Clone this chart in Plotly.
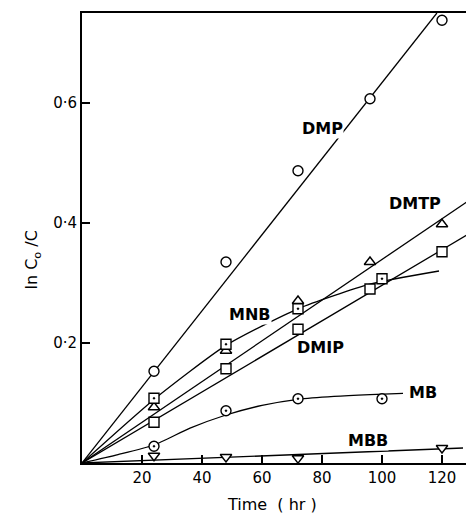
import plotly.graph_objects as go

# Measured points (time in hr, ln C0/C)
dmp_t = [24, 48, 72, 96, 120]
dmp_y = [0.153, 0.335, 0.487, 0.607, 0.738]

dmtp_t = [24, 48, 72, 96, 120]
dmtp_y = [0.093, 0.187, 0.270, 0.335, 0.398]

mnb_t = [24, 48, 72, 100]
mnb_y = [0.108, 0.198, 0.257, 0.307]

dmip_t = [24, 48, 72, 96, 120]
dmip_y = [0.068, 0.157, 0.223, 0.290, 0.352]

mb_t = [24, 48, 72, 100]
mb_y = [0.028, 0.087, 0.107, 0.107]

mbb_t = [24, 48, 72, 120]
mbb_y = [0.012, 0.010, 0.008, 0.025]

# Fitted curves
dmp_fit_t = [0, 118.3]
dmp_fit_y = [0, 0.75]
dmtp_fit_t = [0, 130]
dmtp_fit_y = [0, 0.441]
dmip_fit_t = [0, 130]
dmip_fit_y = [0, 0.385]
mnb_fit_t = [0, 24, 48, 72, 96, 119]
mnb_fit_y = [0, 0.106, 0.196, 0.257, 0.298, 0.320]
mb_fit_t = [0, 12, 24, 36, 48, 60, 72, 84, 96, 107]
mb_fit_y = [0, 0.014, 0.030, 0.058, 0.080, 0.096, 0.106, 0.111, 0.114, 0.116]
mbb_fit_t = [0, 127]
mbb_fit_y = [0, 0.025]

labels = ["DMP", "DMTP", "MNB", "DMIP", "MB", "MBB"]
label_t = [80, 111, 56, 79.5, 113.7, 95.3]
label_y = [0.558, 0.432, 0.248, 0.193, 0.117, 0.038]

y_ticks = [0.2, 0.4, 0.6]
y_ticktext = ["0·2", "0·4", "0·6"]
x_ticks = [20, 40, 60, 80, 100, 120]

fig = go.Figure()

for tx, ty, shape in [
    (dmp_fit_t, dmp_fit_y, "linear"),
    (dmtp_fit_t, dmtp_fit_y, "linear"),
    (dmip_fit_t, dmip_fit_y, "linear"),
    (mnb_fit_t, mnb_fit_y, "spline"),
    (mb_fit_t, mb_fit_y, "spline"),
    (mbb_fit_t, mbb_fit_y, "linear"),
]:
    fig.add_trace(go.Scatter(x=tx, y=ty, mode="lines",
                             line=dict(color="black", width=1.3, shape=shape, smoothing=0.6),
                             showlegend=False, hoverinfo="skip"))

mk = lambda sym: dict(symbol=sym, size=10, color="white", line=dict(color="black", width=1.4))
for tx, ty, sym in [
    (dmp_t, dmp_y, "circle"),
    (dmtp_t, dmtp_y, "triangle-up"),
    (mnb_t, mnb_y, "square-dot"),
    (dmip_t, dmip_y, "square"),
    (mb_t, mb_y, "circle-dot"),
    (mbb_t, mbb_y, "triangle-down"),
]:
    fig.add_trace(go.Scatter(x=tx, y=ty, mode="markers", marker=mk(sym), showlegend=False))

for lab, lx, ly in zip(labels, label_t, label_y):
    fig.add_annotation(x=lx, y=ly, text="<b>" + lab + "</b>", showarrow=False,
                       font=dict(family="DejaVu Sans", size=16, color="black"),
                       bgcolor="white", borderpad=0)

fig.add_annotation(xref="paper", yref="paper", x=-0.159, y=0.451, text="ln C<sub>o</sub> /C",
                   textangle=-90, showarrow=False,
                   font=dict(family="DejaVu Sans", size=16, color="black"))
fig.add_annotation(xref="paper", yref="paper", x=0.487, y=-0.093, text="Time  ( hr )",
                   showarrow=False, yanchor="middle",
                   font=dict(family="DejaVu Sans", size=16, color="black"))

axis_common = dict(ticks="inside", ticklen=8, tickwidth=1.5, tickcolor="black", showline=True,
                   linecolor="black", linewidth=1.8, mirror=True, showgrid=False, zeroline=False,
                   automargin=False, tickfont=dict(family="DejaVu Sans", size=15, color="black"))
fig.update_xaxes(range=[0, 130], tickvals=x_ticks, **axis_common)
fig.update_yaxes(range=[0, 0.75], tickvals=y_ticks, ticktext=y_ticktext, **axis_common)

# page body has an 8px default margin, so the figure is 8px smaller and margins compensate
fig.update_layout(width=466, height=506, margin=dict(l=74, r=2, t=5, b=51),
                  plot_bgcolor="white", paper_bgcolor="white")

fig.write_html("out.html")
